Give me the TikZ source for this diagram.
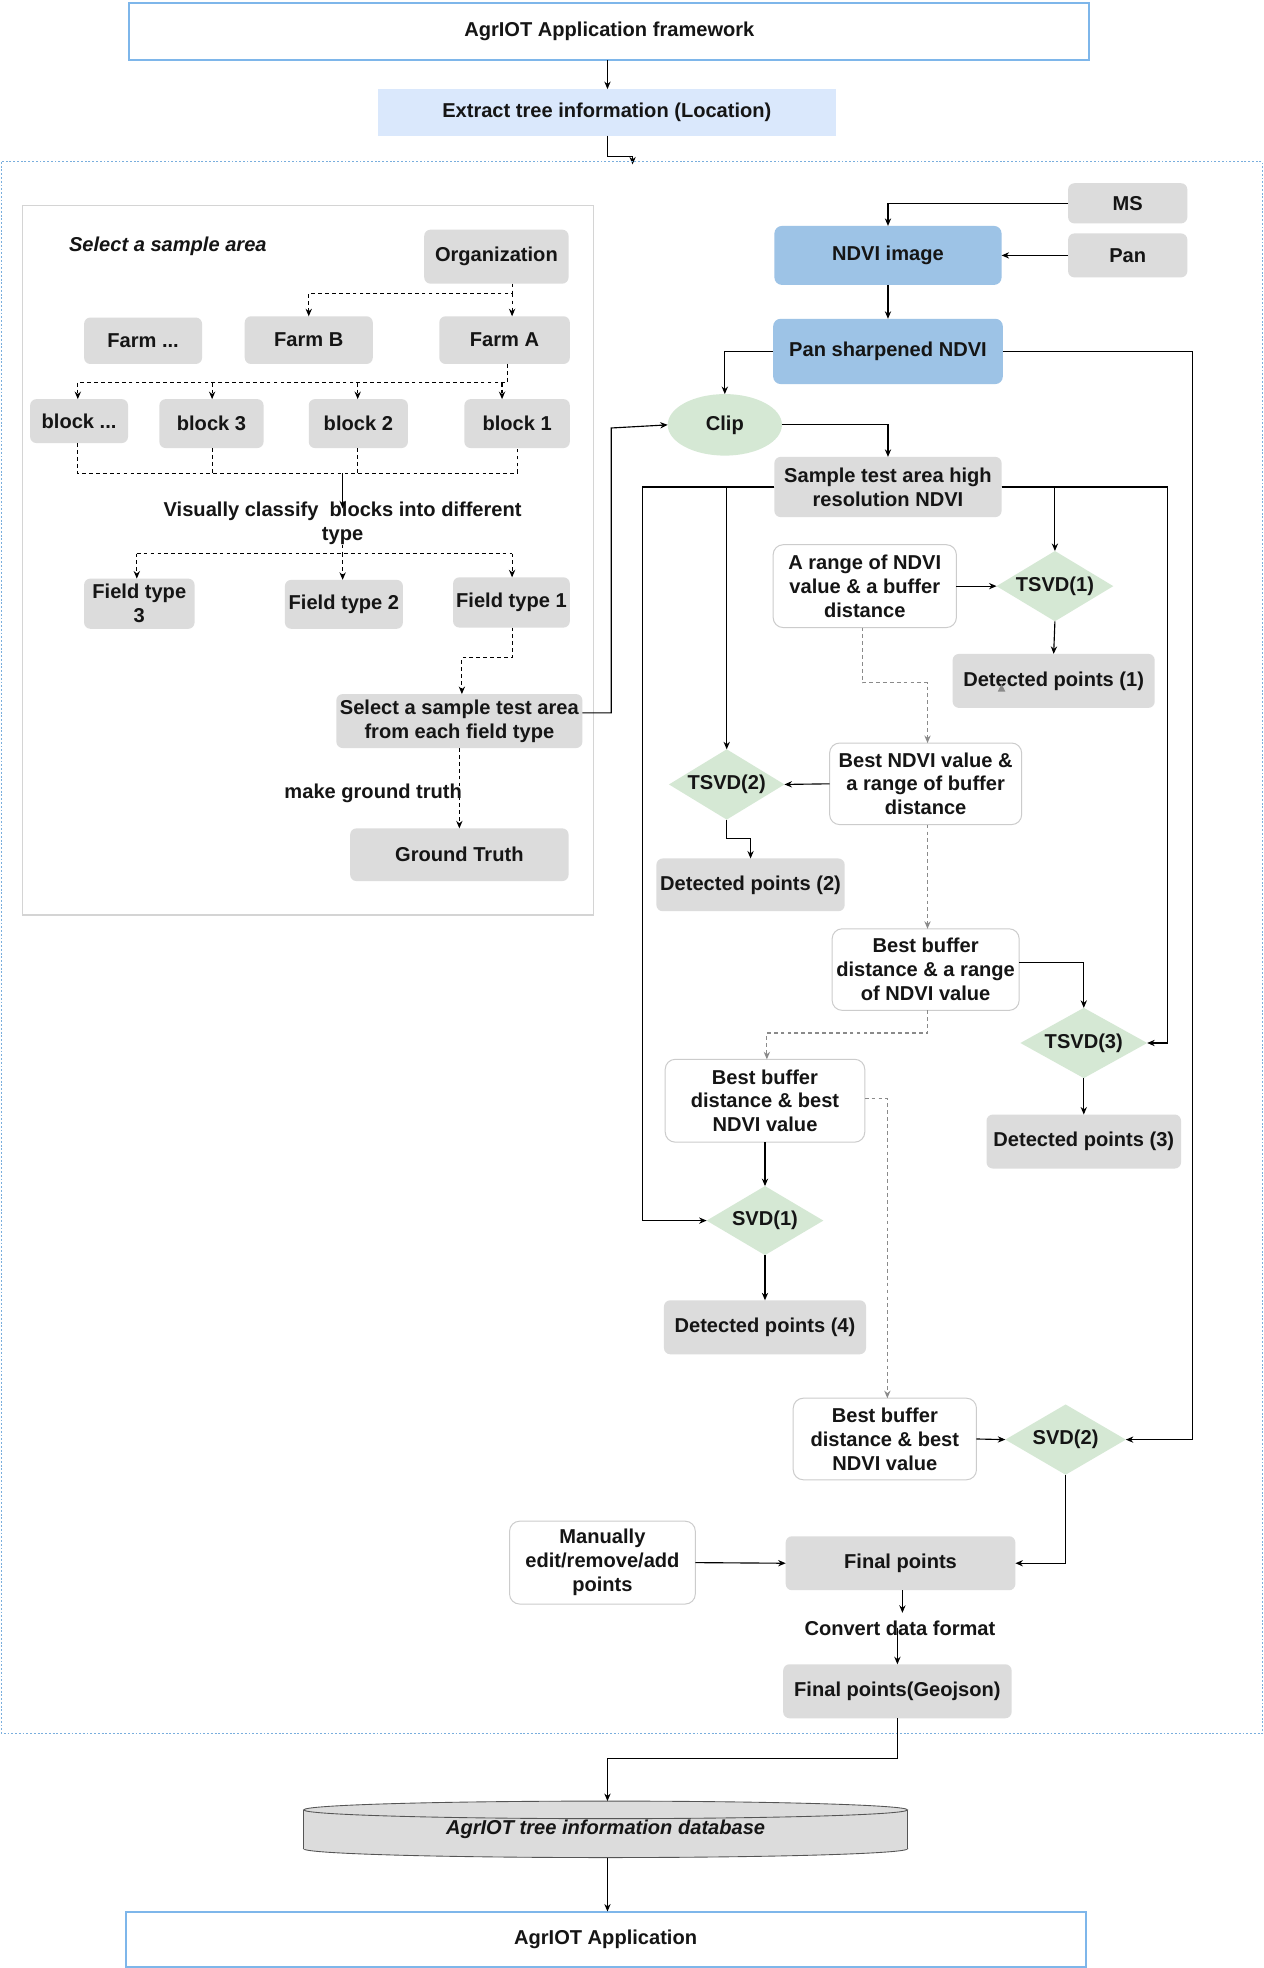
\documentclass[tikz,border=0pt]{standalone}
\usepackage{fontspec}
\setmainfont{Liberation Sans}
\usetikzlibrary{arrows.meta,shapes.geometric}

\definecolor{ink}{HTML}{151515}
\definecolor{frameblue}{HTML}{7EB6EA}
\definecolor{extfill}{HTML}{DAE8FC}
\definecolor{ndviblue}{HTML}{9DC3E6}
\definecolor{boxgray}{HTML}{DCDCDC}
\definecolor{greenfill}{HTML}{D5E8D4}
\definecolor{wedge}{HTML}{CCCCCC}
\definecolor{panelgray}{HTML}{D4D4D4}
\definecolor{contblue}{HTML}{79AEDD}
\definecolor{linegray}{HTML}{8A8A8A}
\definecolor{dbedge}{HTML}{555555}

% box from its corner coordinates: name, x1, y1, x2, y2, style, text
\newcommand\boxat[7]{%
  \node[#6, minimum width={(#4)-(#2)}, minimum height={(#5)-(#3)}]
    (#1) at ({((#2)+(#4))/2},{((#3)+(#5))/2}) {#7};}

\tikzset{
  lbl/.style={font=\bfseries\fontsize{16}{19}\selectfont, text=ink,
    align=center, inner sep=0pt, outer sep=0pt},
  frame/.style={lbl, draw=frameblue, line width=1.6pt, fill=white},
  extbox/.style={lbl, fill=extfill},
  gbox/.style={lbl, fill=boxgray, rounded corners=5pt},
  bluebox/.style={lbl, fill=ndviblue, rounded corners=6pt},
  wbox/.style={lbl, fill=white, draw=wedge, line width=0.8pt, rounded corners=8pt},
  dia/.style={lbl, diamond, aspect=1.7, fill=greenfill},
  arr/.style={draw=black, line width=0.9pt, -{Stealth[length=6pt,width=5pt]}},
  darr/.style={arr, dash pattern=on 3pt off 2.5pt},
  dline/.style={draw=black, line width=0.9pt, dash pattern=on 3pt off 2.5pt},
  garr/.style={draw=linegray, line width=0.9pt, dash pattern=on 3pt off 2.5pt,
    -{Stealth[length=6pt,width=5pt]}},
}

\begin{document}
\begin{tikzpicture}[x=1pt,y=-1pt]
\useasboundingbox[fill=white] (0,0) rectangle (1007,1568);

% ---------- header ----------
\boxat{fw}{103}{2}{868}{48}{frame}{AgrIOT Application framework}
\boxat{ext}{301}{71}{666}{108}{extbox}{Extract tree information (Location)}
\draw[arr] (fw.south -| 484,0) -- (ext.north -| 484,0);
\coordinate (entry) at (504,131);
\draw[arr] (ext.south -| 484,0) -- (484,125) -| (entry);

% ---------- processing container ----------
\draw[draw=contblue, line width=0.9pt, dash pattern=on 1.5pt off 1.5pt] (1,129) rectangle (1006,1381);

% ---------- sample area panel ----------
\draw[draw=panelgray, line width=0.9pt] (18,164) rectangle (473,729);
\node[lbl, anchor=west, font=\bfseries\itshape\fontsize{16}{19}\selectfont] (selarea) at (55,196) {Select a sample area};

\boxat{org}{338}{183}{453}{226}{gbox}{Organization}
\boxat{farmX}{67}{253}{161}{290}{gbox}{Farm ...}
\boxat{farmB}{195}{252}{297}{290}{gbox}{Farm B}
\boxat{farmA}{350}{252}{454}{290}{gbox}{Farm A}
\boxat{blkX}{24}{318}{102}{353}{gbox}{block ...}
\boxat{blk3}{127}{318}{210}{357}{gbox}{block 3}
\boxat{blk2}{246}{318}{325}{357}{gbox}{block 2}
\boxat{blk1}{370}{318}{454}{357}{gbox}{block 1}
\node[lbl] (cls) at (273,417) {Visually classify~ blocks into different\\type};
\boxat{ft3}{67}{461}{155}{501}{gbox}{Field type\\3}
\boxat{ft2}{227}{462}{321}{501}{gbox}{Field type 2}
\boxat{ft1}{361}{460}{454}{500}{gbox}{Field type 1}
\boxat{sel}{268}{553}{464}{596}{gbox}{Select a sample test area\\from each field type}
\boxat{gt}{279}{660}{453}{702}{gbox}{Ground Truth}

\draw[darr] (org.south -| 408,0) -- (408,234) -| (farmB.north);
\draw[darr] (408,234) -- (farmA.north -| 408,0);
\draw[dline] (farmA.south -| 404,0) -- (404,305) -- (62,305);
\foreach \b/\x in {blkX/62, blk3/169, blk2/285, blk1/400}
  \draw[darr] (\x,305) -- (\b.north -| \x,0);
\draw[dline] (blkX.south -| 62,0) -- (62,377) -- (412,377) -- (blk1.south -| 412,0);
\draw[dline] (blk3.south -| 169,0) -- (169,377);
\draw[dline] (blk2.south -| 285,0) -- (285,377);
\draw[arr] (273,377) -- ([yshift=-5pt]cls.north);
\draw[dline] (cls.south) -- (273,441);
\draw[dline] (109,441) -- (408,441);
\foreach \f/\x in {ft3/109, ft2/273, ft1/408}
  \draw[darr] (\x,441) -- (\f.north -| \x,0);
\draw[darr] (ft1.south -| 408,0) -- (408,524) -| (sel.north -| 368,0);
\draw[darr] (sel.south) -- (gt.north);
\node[lbl, anchor=east] (mgt) at (368,632) {make ground truth};

% ---------- image preparation ----------
\boxat{ms}{851}{146}{946}{178}{gbox}{MS}
\boxat{pan}{851}{186}{946}{221}{gbox}{Pan}
\boxat{ndvi}{617}{180}{798}{227}{bluebox}{NDVI image}
\boxat{psh}{616}{254}{799}{306}{bluebox}{Pan sharpened NDVI}
\node[lbl, ellipse, fill=greenfill, minimum width=91, minimum height=49] (clip) at (577.5,338.5) {Clip};
\boxat{sample}{617}{364}{798}{412}{gbox}{Sample test area high\\resolution NDVI}

\draw[arr] (ms.west) -| (ndvi.north);
\draw[arr] (pan.west) -- (ndvi.east);
\draw[arr] (ndvi.south) -- (psh.north);
\draw[arr] (psh.west) -| (clip.north);
\draw[arr] (sel.east |- 0,568) -- (487,568) -- (487,341) -- (clip.west);
\draw[arr] (clip.east) -| (sample.north);

% ---------- detection variants ----------
\boxat{arange}{616}{434}{762}{500}{wbox}{A range of NDVI\\value \& a buffer\\distance}
\node[dia, minimum width=93, minimum height=56] (tsvd1) at (840.5,467) {TSVD(1)};
\boxat{det1}{759}{521}{920}{564}{gbox}{Detected points (1)}
\fill[linegray] (795,551) -- (801,551) -- (798,545) -- cycle;

\boxat{bestndvi}{661}{592}{814}{657}{wbox}{Best NDVI value \&\\a range of buffer\\distance}
\node[dia, minimum width=92, minimum height=56] (tsvd2) at (579,625) {TSVD(2)};
\boxat{det2}{523}{684}{673}{726}{gbox}{Detected points (2)}

\boxat{bestbuf}{663}{740}{812}{805}{wbox}{Best buffer\\distance \& a range\\of NDVI value}
\node[dia, minimum width=101, minimum height=56] (tsvd3) at (863.5,831) {TSVD(3)};
\boxat{det3}{786}{888}{941}{931}{gbox}{Detected points (3)}

\boxat{bb1}{530}{844}{689}{910}{wbox}{Best buffer\\distance \& best\\NDVI value}
\node[dia, minimum width=93, minimum height=55] (svd1) at (609.5,972.5) {SVD(1)};
\boxat{det4}{529}{1036}{690}{1079}{gbox}{Detected points (4)}

\boxat{bb2}{632}{1114}{778}{1179}{wbox}{Best buffer\\distance \& best\\NDVI value}
\node[dia, minimum width=96, minimum height=56] (svd2) at (849,1147) {SVD(2)};

\draw[arr] (psh.east) -- (950,280) |- (svd2.east);
\draw[arr] (sample.west) -| (tsvd2.north);
\draw[arr] (sample.west) -- (512,388) |- (svd1.west);
\draw[arr] (sample.east) -| (tsvd1.north);
\draw[arr] (sample.east) -- (930,388) |- (tsvd3.east);
\draw[arr] (arange.east) -- (tsvd1.west);
\draw[arr] (tsvd1.south) -- (det1.north);
\draw[garr] (arange.south -| 687,0) -- (687,544) -| (bestndvi.north -| 739,0);
\draw[arr] (bestndvi.west) -- (tsvd2.east);
\draw[arr] (tsvd2.south) -- ++(0,15) -| (det2.north);
\draw[garr] (bestndvi.south -| 739,0) -- (bestbuf.north -| 739,0);
\draw[arr] (bestbuf.east |- 0,767) -| (tsvd3.north);
\draw[arr] (tsvd3.south) -- (det3.north);
\draw[garr] (bestbuf.south -| 739,0) -- (739,823) -| (bb1.north -| 611,0);
\draw[arr] (bb1.south) -- (svd1.north);
\draw[arr] (svd1.south) -- (det4.north);
\draw[garr] (bb1.east |- 0,875) -| (bb2.north -| 707,0);
\draw[arr] (bb2.east) -- (svd2.west);

% ---------- final points ----------
\boxat{manual}{406}{1212}{554}{1278}{wbox}{Manually\\edit/remove/add\\points}
\boxat{final}{626}{1224}{809}{1267}{gbox}{Final points}
\node[lbl] (conv) at (717,1297) {Convert data format};
\boxat{geo}{624}{1326}{806}{1369}{gbox}{Final points(Geojson)}
\coordinate (convtop) at (719,1285);

\draw[arr] (svd2.south) |- (final.east);
\draw[arr] (manual.east) -- (final.west);
\draw[arr] (final.south -| 719,0) -- (convtop);
\draw[arr] (conv.center -| 715,0) -- (geo.north -| 715,0);

% ---------- database ----------
\filldraw[fill=boxgray, draw=dbedge, line width=0.7pt] (482.5,1473) ellipse [x radius=240.5, y radius=7];
\fill[boxgray] (242,1442) rectangle (723,1473);
\draw[dbedge, line width=0.7pt] (242,1442) -- (242,1473) (723,1442) -- (723,1473);
\filldraw[fill=boxgray, draw=dbedge, line width=0.7pt] (482.5,1442) ellipse [x radius=240.5, y radius=7];
\node[lbl, font=\bfseries\itshape\fontsize{16}{19}\selectfont, minimum width=481, minimum height=45] (db) at (482.5,1457.5) {AgrIOT tree information database};

\boxat{app}{100}{1523}{865}{1567}{frame}{AgrIOT Application}

\draw[arr] (geo.south) -- (715,1401) -| (db.north -| 484,0);
\draw[arr] (db.south -| 484,0) -- (app.north -| 484,0);
\end{tikzpicture}
\end{document}
